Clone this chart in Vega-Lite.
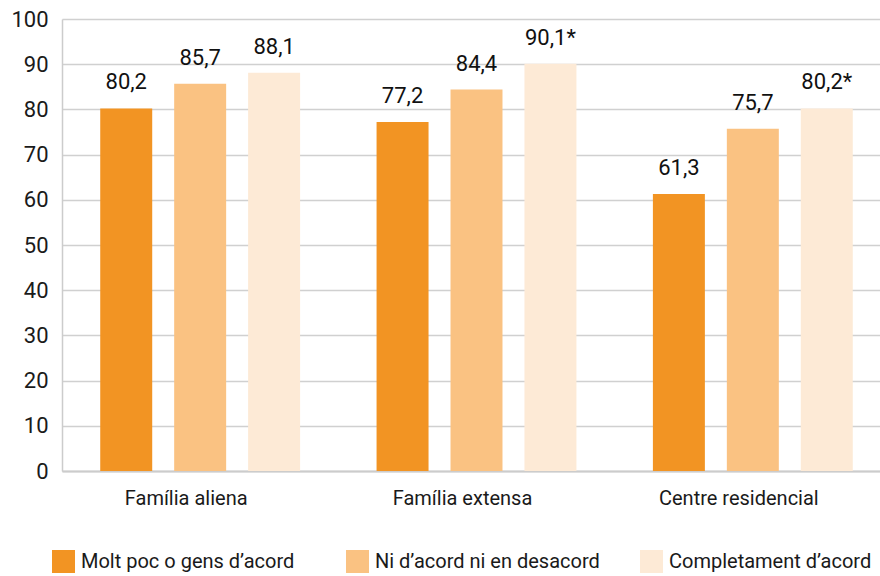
{
  "$schema": "https://vega.github.io/schema/vega-lite/v6.json",
  "width": 818,
  "height": 452,
  "autosize": {"type": "none"},
  "padding": {"left": 62, "top": 19, "right": 0, "bottom": 105},
  "background": "white",
  "config": {
    "view": {"stroke": null},
    "font": "Roboto",
    "locale": {"number": {"decimal": ",", "thousands": ".", "grouping": [3], "currency": ["", " €"]}}
  },
  "data": {
    "values": [
      {"grup": "Família aliena", "resposta": "Molt poc o gens d’acord", "valor": 80.2, "label": "80,2"},
      {"grup": "Família aliena", "resposta": "Ni d’acord ni en desacord", "valor": 85.7, "label": "85,7"},
      {"grup": "Família aliena", "resposta": "Completament d’acord", "valor": 88.1, "label": "88,1"},
      {"grup": "Família extensa", "resposta": "Molt poc o gens d’acord", "valor": 77.2, "label": "77,2"},
      {"grup": "Família extensa", "resposta": "Ni d’acord ni en desacord", "valor": 84.4, "label": "84,4"},
      {"grup": "Família extensa", "resposta": "Completament d’acord", "valor": 90.1, "label": "90,1*"},
      {"grup": "Centre residencial", "resposta": "Molt poc o gens d’acord", "valor": 61.3, "label": "61,3"},
      {"grup": "Centre residencial", "resposta": "Ni d’acord ni en desacord", "valor": 75.7, "label": "75,7"},
      {"grup": "Centre residencial", "resposta": "Completament d’acord", "valor": 80.2, "label": "80,2*"}
    ]
  },
  "encoding": {
    "x": {
      "field": "grup", "type": "nominal", "sort": null,
      "scale": {"range": [0, 829], "paddingInner": 0, "paddingOuter": 0},
      "axis": {"title": null, "labelAngle": 0, "labelFontSize": 20, "labelColor": "#1a1a1a", "labelOffset": -14, "labelPadding": 17, "ticks": false, "domainColor": "#cccccc", "domainWidth": 2}
    },
    "xOffset": {
      "field": "resposta", "type": "nominal", "sort": ["Molt poc o gens d’acord", "Ni d’acord ni en desacord", "Completament d’acord"],
      "scale": {"paddingInner": 0.297, "paddingOuter": 0.517}
    },
    "y": {
      "field": "valor", "type": "quantitative",
      "scale": {"domain": [0, 100]},
      "axis": {"title": null, "values": [0,10,20,30,40,50,60,70,80,90,100], "labelFontSize": 22, "labelColor": "#1a1a1a", "labelPadding": 14, "ticks": false, "gridColor": "#d0d0d0", "gridWidth": 1.5, "domainColor": "#cccccc", "domainWidth": 1.5}
    }
  },
  "layer": [
    {
      "mark": {"type": "bar"},
      "encoding": {
        "color": {
          "field": "resposta", "type": "nominal",
          "sort": ["Molt poc o gens d’acord", "Ni d’acord ni en desacord", "Completament d’acord"],
          "scale": {"range": ["#F29423", "#FAC282", "#FDEAD6"]},
          "legend": {
            "title": null, "orient": "none", "legendX": -10, "legendY": 531, "direction": "horizontal",
            "symbolType": "square", "symbolSize": 529, "symbolStrokeWidth": 0, "labelFontSize": 20, "labelColor": "#1a1a1a",
            "labelLimit": 0, "gridAlign": "all", "columnPadding": 40, "labelOffset": 6, "symbolOffset": 0
          }
        }
      }
    },
    {
      "mark": {"type": "text", "baseline": "alphabetic", "dy": -19, "fontSize": 22, "color": "#111111"},
      "encoding": {"text": {"field": "label"}}
    }
  ]
}
